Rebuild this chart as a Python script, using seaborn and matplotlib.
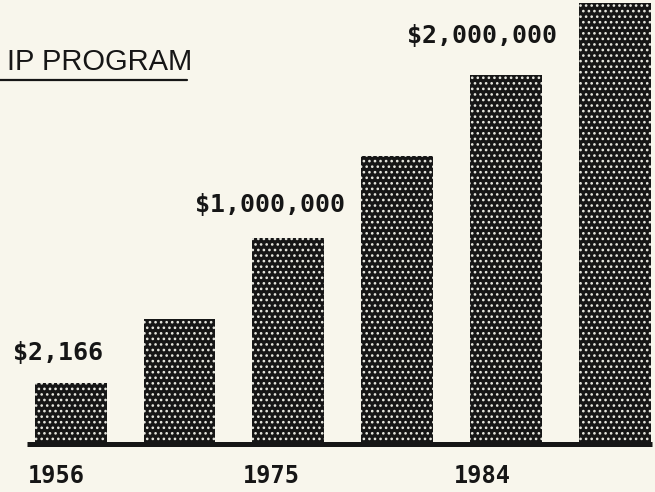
import numpy as np
import pandas as pd
import matplotlib.pyplot as plt
import seaborn as sns

# bar heights (arbitrary units, the scan shows no value axis)
bar_index = [0, 1, 2, 3, 4, 5]
bar_height = [61, 125, 206, 288, 369, 441]

# printed labels
value_labels = ["$2,166", "$1,000,000", "$2,000,000"]
value_label_bar = [0, 2, 4]
year_labels = ["1956", "1975", "1984"]
year_label_bar = [0, 2, 4]
title_text = "IP PROGRAM"

paper = "#f8f6ec"
ink = "#161616"

sns.set_theme(style="white")
plt.rcParams['font.family'] = ['DejaVu Sans Mono', 'DejaVu Sans']
plt.rcParams['hatch.linewidth'] = 1.1

df = pd.DataFrame({'bar': bar_index, 'height': bar_height})

fig = plt.figure(figsize=(6.55, 4.92), dpi=100, facecolor=paper)
ax = fig.add_axes([0, 0, 1, 1])
ax.set_facecolor(paper)

sns.barplot(data=df, x='bar', y='height', color=ink, width=0.66,
            saturation=1, ax=ax)
for bar in ax.patches:
    bar.set_facecolor(ink)
    bar.set_edgecolor("#e8e8e0")
    bar.set_linewidth(0)
    bar.set_hatch("...")

ax.set_xlim(-0.65, 5.37)
ax.set_ylim(-48, 444)
ax.axis('off')

# base line
ax.plot([-0.40, 5.34], [0, 0], color=ink, lw=3.6, solid_capstyle='butt')

# value labels
label_dx = [-0.12, -0.17, -0.22]
label_y = [91, 239, 408]
for txt, b, dx, y in zip(value_labels, value_label_bar, label_dx, label_y):
    ax.text(b + dx, y, txt, ha='center', va='center', fontsize=18,
            fontweight='bold', color=ink)

# year labels
year_dx = [-0.13, -0.16, -0.22]
for txt, b, dx in zip(year_labels, year_label_bar, year_dx):
    ax.text(b + dx, -32, txt, ha='center', va='center', fontsize=17,
            fontweight='bold', color=ink)

# title, at the left edge of the scan
fig.text(192 / 655, 1 - 62 / 492, title_text, ha='right', va='center',
         fontsize=21, family='Liberation Sans', color=ink)
fig.add_artist(plt.Line2D([0, 187 / 655], [1 - 80 / 492, 1 - 80 / 492],
                          color=ink, lw=1.6))

fig.savefig("out.png", dpi=100, facecolor=paper)
